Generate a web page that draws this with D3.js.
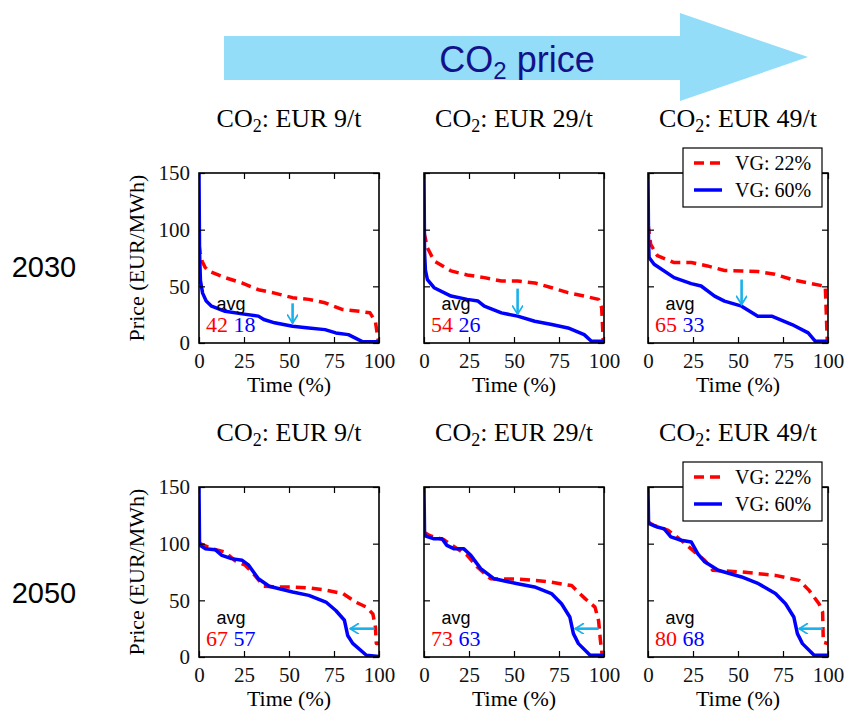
<!DOCTYPE html>
<html>
<head>
<meta charset="utf-8">
<script src="https://cdn.jsdelivr.net/npm/d3@7"></script>
<style>
  body { margin: 0; background: #fff; }
  svg { display: block; }
  .serif { font-family: "Liberation Serif", "DejaVu Serif", serif; }
  .sans { font-family: "Liberation Sans", Arial, sans-serif; }
</style>
</head>
<body>
<div id="chart"></div>
<script>
// ---- data ----
const years = ["2030", "2050"];
const co2Prices = [9, 29, 49];
const legendLabels = ["VG: 22%", "VG: 60%"];
const xTicks = [0, 25, 50, 75, 100];
const yTicks = [0, 50, 100, 150];

// price duration curves, [time %, EUR/MWh]
const red2030_9 = [[0,87],[0.6,80],[1.8,72],[3.3,67],[5.2,63.6],[14.5,57.7],[23.8,53],[33,47],[42,44],[52,40],[61,38.5],[70,35.5],[79.5,29.6],[89,28],[95,26.6],[98,19],[99.6,1.5]];
const blue2030_9 = [[0,150],[0.3,80],[0.8,55],[2,44],[4,37],[7,32.5],[14.5,28],[24,25.7],[33,23.7],[36,20.7],[42,17.8],[52,14.8],[61,13.3],[70,11.8],[76,8.9],[83,7.4],[91,1],[100,1]];
const red2030_29 = [[0,97.6],[1.9,84],[5.6,72.5],[15,63.6],[24,60],[33.5,57.7],[43,54.7],[52,54.7],[61.5,53],[71,48.8],[80,44.4],[89,41.4],[97,38.5],[98.7,31],[99.6,1.5]];
const blue2030_29 = [[0,150],[0.3,80],[0.8,64],[1.9,56],[5.6,48.8],[15,41.4],[24,38.5],[30,37],[33.5,32.5],[43,26.6],[52,23.7],[61.5,19.2],[71,16.3],[80,13.3],[89,7.4],[93,1.5],[100,1.5]];
const red2030_49 = [[0,105],[1.5,87],[5.2,77],[14.5,71],[24,71],[33,68],[42.5,64],[52,63.6],[61,63],[70.5,60.7],[80,56],[89,53],[98.5,50],[99.6,1.5]];
const blue2030_49 = [[0,150],[0.3,90],[0.6,75.4],[3.4,69.5],[14.5,57.7],[24,52.4],[29.5,50.3],[37,41.4],[42.5,37],[52,32.5],[61,23.7],[68.7,23.7],[80,16.3],[89,8.9],[93,1.5],[100,1.5]];
const red2050_9 = [[0,100],[0.6,100],[7,95.6],[14.5,92.6],[20,85],[25.7,81],[31,72],[36,62.4],[42.5,61.8],[52,61.8],[61,61],[70.5,59],[80,56],[87,48.5],[93,44],[96.6,38],[98,26.5],[98.5,12],[100,12]];
const blue2050_9 = [[0,150],[0.3,100],[0.6,98.5],[3.4,95.6],[9,94.7],[12.7,89.7],[18,86.8],[24,85.3],[27.6,81],[33,69],[39,62.4],[52,57.4],[61,54.4],[70.5,48.5],[76,41],[80.8,32.4],[82.6,19],[85.4,12],[93,1.5],[100,0.5]];
const red2050_29 = [[0,110],[3.4,107],[11,103.5],[18.4,95.6],[24,89.7],[29.6,79.4],[37,69],[44.6,68.8],[52,68.8],[61.4,67.6],[70.8,66],[82,63],[89.5,51.5],[95,44],[97,32],[98,14.7],[99,1.5],[100,1.5]];
const blue2050_29 = [[0,150],[0.3,110],[0.6,107],[5.2,104.4],[10,104.4],[12.7,98.5],[16.5,95.6],[22,95.6],[26,89.7],[31.5,78],[39,69],[52,64.7],[61.4,61.8],[70.8,56],[76.4,47],[81,35.3],[83,20.6],[85.8,11.8],[92.3,1.5],[100,1.5]];
const red2050_49 = [[0,119],[3.4,116],[11,112],[18.4,103],[26,92.6],[31.5,85.3],[36,76.5],[42.7,76],[52,75],[61.4,73.5],[70.8,72],[84,67.6],[89.5,58.8],[95,47],[97,39.7],[97.4,13],[100,11.8]];
const blue2050_49 = [[0,150],[0.3,120],[0.6,117.6],[5.2,114.7],[9,113],[12.7,106],[18.4,103],[24,101.5],[27.7,91],[31.5,84],[39,76.5],[52,70.6],[61.4,64.7],[70.8,56],[76.4,47],[81,35.3],[83,20.6],[85.8,11.8],[92.3,1.5],[100,1.5]];

const redAvg = [[42, 54, 65], [67, 73, 80]];
const blueAvg = [[18, 26, 33], [57, 63, 68]];

// cyan annotation arrows: 2030 vertical [x, yFrom, yTo], 2050 horizontal [xFrom, xTo, y]
const arrows2030 = [[52, 35, 17.5], [52, 48, 25.5], [52, 56, 34]];
const arrows2050 = [[97.5, 84, 25], [97, 84, 25], [97, 84, 25]];

const curves = [
  [[red2030_9, blue2030_9], [red2030_29, blue2030_29], [red2030_49, blue2030_49]],
  [[red2050_9, blue2050_9], [red2050_29, blue2050_29], [red2050_49, blue2050_49]]
];

// ---- layout ----
const W = 846, H = 712;
const panelLeft = [199, 424, 648];
const panelW = 180;
const panelTop = [173, 487];
const panelH = 170;
const rowLabelY = [277, 603];
const RED = "#ff0000", BLUE = "#0000ff", CYAN = "#1ab0ea";

const svg = d3.select("#chart").append("svg")
  .attr("width", W).attr("height", H);

svg.append("defs").append("marker")
  .attr("id", "head")
  .attr("viewBox", "0 0 10 10")
  .attr("refX", 9).attr("refY", 5)
  .attr("markerWidth", 4.2).attr("markerHeight", 4.2)
  .attr("markerUnits", "strokeWidth")
  .attr("orient", "auto")
  .append("path")
  .attr("d", "M1,0 L9,5 L1,10")
  .attr("fill", "none")
  .attr("stroke", CYAN)
  .attr("stroke-width", 1.6);

// big arrow on top
const bigArrow = svg.append("g");
bigArrow.append("path")
  .attr("d", "M224,36 L680,36 L680,13 L808,57 L680,101 L680,80 L224,80 Z")
  .attr("fill", "#93ddf8");
const bigText = bigArrow.append("text")
  .attr("class", "sans")
  .attr("x", 517).attr("y", 72)
  .attr("text-anchor", "middle")
  .attr("font-size", 36)
  .attr("fill", "#12128a");
bigText.append("tspan").text("CO");
bigText.append("tspan").attr("font-size", 24).attr("dy", 7).text("2");
bigText.append("tspan").attr("dy", -7).text(" price");

// row labels
years.forEach((yr, r) => {
  svg.append("text")
    .attr("class", "sans")
    .attr("x", 44).attr("y", rowLabelY[r])
    .attr("text-anchor", "middle")
    .attr("font-size", 29)
    .text(yr);
});

const line = d3.line();

years.forEach((yr, r) => {
  co2Prices.forEach((co2, c) => {
    const x0 = panelLeft[c], y0 = panelTop[r];
    const x = d3.scaleLinear().domain([0, 100]).range([x0, x0 + panelW]);
    const y = d3.scaleLinear().domain([0, 150]).range([y0 + panelH, y0]);
    const g = svg.append("g");

    // title
    const t = g.append("text")
      .attr("class", "serif")
      .attr("x", x0 + panelW / 2).attr("y", y0 - 46)
      .attr("text-anchor", "middle")
      .attr("font-size", 26);
    t.append("tspan").text("CO");
    t.append("tspan").attr("font-size", 18).attr("dy", 5).text("2");
    t.append("tspan").attr("dy", -5).text(`: EUR ${co2}/t`);

    // clip
    const clipId = `clip-${r}-${c}`;
    g.append("clipPath").attr("id", clipId)
      .append("rect")
      .attr("x", x0).attr("y", y0).attr("width", panelW).attr("height", panelH);

    const [redData, blueData] = curves[r][c];
    const lines = g.append("g").attr("clip-path", `url(#${clipId})`);
    lines.append("path")
      .attr("d", line(redData.map(d => [x(d[0]), y(d[1])])))
      .attr("fill", "none").attr("stroke", RED)
      .attr("stroke-width", 3.5)
      .attr("stroke-dasharray", "10,6")
      .attr("stroke-linejoin", "round");
    lines.append("path")
      .attr("d", line(blueData.map(d => [x(d[0]), y(d[1])])))
      .attr("fill", "none").attr("stroke", BLUE)
      .attr("stroke-width", 3.5)
      .attr("stroke-linejoin", "round");

    // axes, ticks pointing inside on all sides
    const bottom = g.append("g").attr("transform", `translate(0,${y0 + panelH})`)
      .call(d3.axisBottom(x).tickValues(xTicks).tickSizeInner(-6).tickSizeOuter(0).tickPadding(10));
    const top = g.append("g").attr("transform", `translate(0,${y0})`)
      .call(d3.axisTop(x).tickValues(xTicks).tickSizeInner(-6).tickSizeOuter(0).tickFormat(""));
    const left = g.append("g").attr("transform", `translate(${x0},0)`)
      .call(d3.axisLeft(y).tickValues(yTicks).tickSizeInner(-6).tickSizeOuter(0).tickPadding(9)
        .tickFormat(c === 0 ? d3.format("d") : ""));
    const right = g.append("g").attr("transform", `translate(${x0 + panelW},0)`)
      .call(d3.axisRight(y).tickValues(yTicks).tickSizeInner(-6).tickSizeOuter(0).tickFormat(""));
    [bottom, top, left, right].forEach(a => {
      a.attr("font-family", null).attr("font-size", null);
      a.select(".domain").remove();
      a.selectAll(".tick line").attr("stroke", "#000").attr("stroke-width", 1.2);
      a.selectAll("text").attr("class", "serif").attr("font-size", 21).attr("fill", "#111");
    });

    g.append("rect")
      .attr("x", x0).attr("y", y0).attr("width", panelW).attr("height", panelH)
      .attr("fill", "none").attr("stroke", "#000").attr("stroke-width", 1.6);

    g.append("text")
      .attr("class", "serif")
      .attr("x", x0 + panelW / 2).attr("y", y0 + panelH + 49)
      .attr("text-anchor", "middle")
      .attr("font-size", 22)
      .text("Time (%)");

    if (c === 0) {
      g.append("text")
        .attr("class", "serif")
        .attr("transform", `translate(${x0 - 55},${y0 + panelH / 2}) rotate(-90)`)
        .attr("text-anchor", "middle")
        .attr("font-size", 22)
        .text("Price (EUR/MWh)");
    }

    // avg annotation
    g.append("text")
      .attr("class", "sans")
      .attr("x", x0 + 32).attr("y", y0 + panelH - 33)
      .attr("text-anchor", "middle")
      .attr("font-size", 18)
      .text("avg");
    const nums = g.append("text")
      .attr("class", "serif")
      .attr("x", x0 + 7).attr("y", y0 + panelH - 11)
      .attr("font-size", 22);
    nums.append("tspan").attr("fill", RED).text(redAvg[r][c]);
    nums.append("tspan").attr("fill", BLUE).text(" " + blueAvg[r][c]);

    // cyan arrow
    let a;
    if (r === 0) {
      const [ax, ya, yb] = arrows2030[c];
      a = [[x(ax), y(ya)], [x(ax), y(yb)]];
    } else {
      const [xa, xb, ay] = arrows2050[c];
      a = [[x(xa), y(ay)], [x(xb), y(ay)]];
    }
    g.append("path")
      .attr("d", line(a))
      .attr("stroke", CYAN).attr("stroke-width", 2.6)
      .attr("fill", "none")
      .attr("marker-end", "url(#head)");

    // legend in the right-hand panel
    if (c === 2) {
      const lx = 683, ly = y0 - 25;
      const lg = g.append("g");
      lg.append("rect")
        .attr("x", lx).attr("y", ly).attr("width", 139).attr("height", 59)
        .attr("fill", "#fff").attr("stroke", "#000").attr("stroke-width", 1.2);
      legendLabels.forEach((lab, i) => {
        const yy = ly + 15 + i * 27;
        lg.append("line")
          .attr("x1", lx + 11).attr("x2", lx + 39)
          .attr("y1", yy).attr("y2", yy)
          .attr("stroke", i === 0 ? RED : BLUE)
          .attr("stroke-width", 3.5)
          .attr("stroke-dasharray", i === 0 ? "10,6" : null);
        lg.append("text")
          .attr("class", "serif")
          .attr("x", lx + 52).attr("y", yy + 7)
          .attr("font-size", 20)
          .text(lab);
      });
    }
  });
});
</script>
</body>
</html>
